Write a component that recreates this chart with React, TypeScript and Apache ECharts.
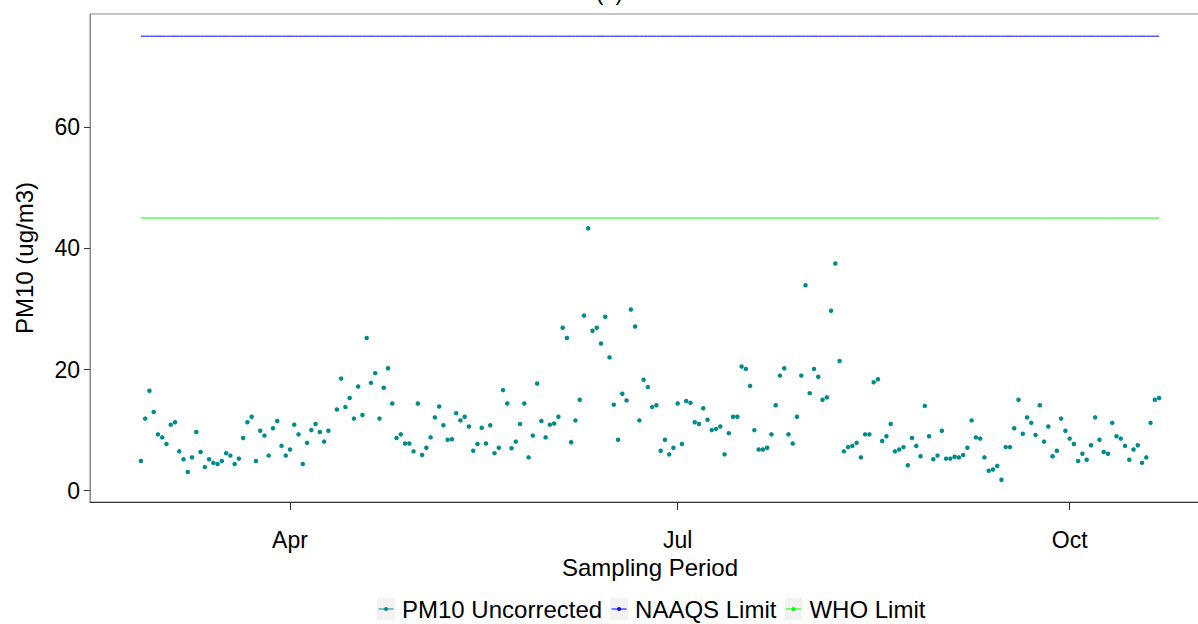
import React, { useEffect, useRef } from "react";
import * as echarts from "echarts";

// ---- data ----
const dates: string[] = [
  "2019-02-25", "2019-02-26", "2019-02-27", "2019-02-28",
  "2019-03-01", "2019-03-02", "2019-03-03", "2019-03-04", "2019-03-05", "2019-03-06", "2019-03-07", "2019-03-08",
  "2019-03-09", "2019-03-10", "2019-03-11", "2019-03-12", "2019-03-13", "2019-03-14", "2019-03-15", "2019-03-16",
  "2019-03-17", "2019-03-18", "2019-03-19", "2019-03-20", "2019-03-21", "2019-03-22", "2019-03-23", "2019-03-24",
  "2019-03-25", "2019-03-26", "2019-03-27", "2019-03-28", "2019-03-29", "2019-03-30", "2019-03-31",
  "2019-04-01", "2019-04-02", "2019-04-03", "2019-04-04", "2019-04-05", "2019-04-06", "2019-04-07", "2019-04-08",
  "2019-04-09", "2019-04-10", "2019-04-12", "2019-04-13", "2019-04-14", "2019-04-15", "2019-04-16",
  "2019-04-17", "2019-04-18", "2019-04-19", "2019-04-20", "2019-04-21", "2019-04-22", "2019-04-23", "2019-04-24",
  "2019-04-25", "2019-04-26", "2019-04-27", "2019-04-28", "2019-04-29", "2019-04-30",
  "2019-05-01", "2019-05-02", "2019-05-03", "2019-05-04", "2019-05-05", "2019-05-06", "2019-05-07", "2019-05-08",
  "2019-05-09", "2019-05-10", "2019-05-11", "2019-05-12", "2019-05-13", "2019-05-14", "2019-05-15", "2019-05-16",
  "2019-05-17", "2019-05-18", "2019-05-19", "2019-05-20", "2019-05-21", "2019-05-22", "2019-05-23", "2019-05-24",
  "2019-05-25", "2019-05-26", "2019-05-27", "2019-05-28", "2019-05-29", "2019-05-30", "2019-05-31",
  "2019-06-01", "2019-06-02", "2019-06-03", "2019-06-04", "2019-06-05", "2019-06-06", "2019-06-07", "2019-06-08",
  "2019-06-09", "2019-06-10", "2019-06-11", "2019-06-12", "2019-06-13", "2019-06-14", "2019-06-15", "2019-06-16",
  "2019-06-17", "2019-06-18", "2019-06-19", "2019-06-20", "2019-06-21", "2019-06-22", "2019-06-23", "2019-06-24",
  "2019-06-25", "2019-06-26", "2019-06-27", "2019-06-28", "2019-06-29", "2019-06-30",
  "2019-07-01", "2019-07-02", "2019-07-03", "2019-07-04", "2019-07-05", "2019-07-06", "2019-07-07", "2019-07-08",
  "2019-07-09", "2019-07-10", "2019-07-11", "2019-07-12", "2019-07-13", "2019-07-14", "2019-07-15", "2019-07-16",
  "2019-07-17", "2019-07-18", "2019-07-19", "2019-07-20", "2019-07-21", "2019-07-22", "2019-07-23", "2019-07-24",
  "2019-07-25", "2019-07-26", "2019-07-27", "2019-07-28", "2019-07-29", "2019-07-30", "2019-07-31",
  "2019-08-01", "2019-08-02", "2019-08-03", "2019-08-04", "2019-08-05", "2019-08-06", "2019-08-07", "2019-08-08",
  "2019-08-09", "2019-08-10", "2019-08-11", "2019-08-12", "2019-08-13", "2019-08-14", "2019-08-15", "2019-08-16",
  "2019-08-17", "2019-08-18", "2019-08-19", "2019-08-20", "2019-08-21", "2019-08-22", "2019-08-23", "2019-08-24",
  "2019-08-25", "2019-08-26", "2019-08-27", "2019-08-28", "2019-08-29", "2019-08-30", "2019-08-31",
  "2019-09-01", "2019-09-02", "2019-09-03", "2019-09-04", "2019-09-05", "2019-09-06", "2019-09-07", "2019-09-08",
  "2019-09-09", "2019-09-10", "2019-09-11", "2019-09-12", "2019-09-13", "2019-09-14", "2019-09-15", "2019-09-16",
  "2019-09-17", "2019-09-18", "2019-09-19", "2019-09-20", "2019-09-21", "2019-09-22", "2019-09-23", "2019-09-24",
  "2019-09-25", "2019-09-26", "2019-09-27", "2019-09-28", "2019-09-29", "2019-09-30",
  "2019-10-01", "2019-10-02", "2019-10-03", "2019-10-04", "2019-10-05", "2019-10-06", "2019-10-07", "2019-10-08",
  "2019-10-09", "2019-10-10", "2019-10-11", "2019-10-12", "2019-10-13", "2019-10-14", "2019-10-15", "2019-10-16",
  "2019-10-17", "2019-10-18", "2019-10-19", "2019-10-20", "2019-10-21", "2019-10-22",
];

const pm10Uncorrected: number[] = [
  4.9, 11.9, 16.5, 13.0,
  9.3, 8.8, 7.7, 10.9, 11.3, 6.5, 5.2, 3.1, 5.5, 9.7, 6.4, 3.9, 5.2, 4.6, 4.4, 4.9,
  6.2, 5.8, 4.4, 5.3, 8.7, 11.3, 12.2, 4.9, 9.9, 9.1, 5.8, 10.3, 11.5, 7.4, 5.8,
  6.8, 10.9, 9.3, 4.4, 7.9, 10.0, 11.0, 9.7, 8.1, 9.9, 13.4, 18.5, 13.8, 15.3, 11.9,
  17.2, 12.5, 25.2, 17.8, 19.4, 11.9, 17.0, 20.2, 14.4, 8.7, 9.3, 7.8, 7.8, 6.5,
  14.4, 5.9, 7.1, 8.8, 12.1, 13.9, 10.8, 8.4, 8.5, 12.8, 11.6, 12.2, 10.6, 6.6, 7.7, 10.4,
  7.8, 10.8, 6.2, 7.1, 16.6, 14.4, 7.0, 8.1, 11.0, 14.4, 5.5, 9.1, 17.7, 11.5, 8.8,
  10.9, 11.1, 12.2, 26.9, 25.2, 8.0, 11.6, 15.0, 28.9, 43.3, 26.4, 26.9, 24.3, 28.7, 22.0, 14.2,
  8.4, 16.0, 14.9, 29.9, 27.1, 11.6, 18.3, 17.1, 13.8, 14.1, 6.6, 8.4, 6.0, 7.1,
  14.4, 7.7, 14.8, 14.5, 11.3, 11.0, 13.6, 11.7, 10.0, 10.2, 10.6, 6.0, 9.5, 12.2, 12.2, 20.5,
  20.1, 17.3, 10.0, 6.8, 6.8, 7.1, 9.3, 14.1, 19.0, 20.2, 9.3, 7.8, 12.2, 19.0, 33.9,
  16.1, 20.1, 18.8, 15.0, 15.4, 29.7, 37.5, 21.4, 6.5, 7.2, 7.4, 7.9, 5.5, 9.3, 9.3, 17.9,
  18.4, 8.2, 9.0, 11.0, 6.5, 6.8, 7.2, 4.2, 8.7, 7.4, 5.7, 14.0, 9.0, 5.2, 5.8,
  9.9, 5.3, 5.3, 5.6, 5.5, 5.9, 7.1, 11.6, 8.8, 8.6, 5.5, 3.3, 3.5, 4.1, 1.8, 7.2,
  7.2, 10.3, 15.0, 9.4, 12.1, 11.2, 9.2, 14.1, 8.1, 10.6, 5.7, 6.6, 11.9, 9.9,
  8.6, 7.7, 4.9, 6.1, 5.1, 7.5, 12.1, 8.4, 6.4, 6.1, 11.2, 9.0, 8.6, 7.4, 5.1, 6.8,
  7.5, 4.6, 5.5, 11.2, 15.0, 15.3,
];

const naaqsLimit = 75;
const whoLimit = 45;

const xTickDates: string[] = ["2019-04-01", "2019-07-01", "2019-10-01"];
const yTickValues: number[] = [0, 20, 40, 60];
const monthLabels: string[] = ["Jan", "Feb", "Mar", "Apr", "May", "Jun", "Jul", "Aug", "Sep", "Oct", "Nov", "Dec"];

const seriesNames = ["PM10 Uncorrected", "NAAQS Limit", "WHO Limit"];
const seriesColors = ["#008B8B", "#0000FF", "#00FF00"];

// ---- helpers ----
const ts = (d: string) => Date.parse(d + "T00:00:00Z");

const keyIcon = (color: string) =>
  "image://data:image/svg+xml;charset=utf-8," +
  encodeURIComponent(
    `<svg xmlns="http://www.w3.org/2000/svg" width="18" height="22" viewBox="0 0 18 22">` +
      `<rect width="18" height="22" fill="#F2F2F2"/>` +
      `<line x1="1.5" y1="11" x2="16.5" y2="11" stroke="${color}" stroke-width="1"/>` +
      `<circle cx="9" cy="11" r="2" fill="${color}"/></svg>`
  );

export default function App() {
  const ref = useRef<HTMLDivElement>(null);

  useEffect(() => {
    if (!ref.current) return;
    const chart = echarts.init(ref.current, null, { renderer: "svg" });

    const xs = dates.map(ts);
    const first = xs[0];
    const last = xs[xs.length - 1];
    const span = last - first;
    const xMin = first - span * 0.05;
    const xMax = last + span * 0.05;

    const allY = [...pm10Uncorrected, naaqsLimit, whoLimit];
    const yLo = Math.min(...allY);
    const yHi = Math.max(...allY);
    const yMin = yLo - (yHi - yLo) * 0.05;
    const yMax = yHi + (yHi - yLo) * 0.05;

    const xTicks = xTickDates.map(ts);
    const font = "'Liberation Sans', Arial, sans-serif";

    const option: any = {
      animation: false,
      backgroundColor: "#ffffff",
      textStyle: { fontFamily: font },
      title: {
        text: "(a)",
        left: 596,
        top: -19,
        padding: 0,
        textStyle: { fontSize: 22, fontWeight: "normal", color: "#000", fontFamily: font },
      },
      grid: {
        left: 90,
        top: 14,
        right: 2,
        bottom: 122,
        show: true,
        borderColor: "#8a8a8a",
        borderWidth: 1,
        backgroundColor: "transparent",
      },
      legend: {
        top: 597,
        left: 377,
        padding: 0,
        itemWidth: 18,
        itemHeight: 22,
        itemGap: 8,
        selectedMode: false,
        textStyle: { fontSize: 24, color: "#000", fontFamily: font, padding: [0, 0, 0, 2] },
        data: seriesNames.map((n, i) => ({ name: n, icon: keyIcon(seriesColors[i]) })),
      },
      xAxis: {
        type: "value",
        min: xMin,
        max: xMax,
        name: "Sampling Period",
        nameLocation: "middle",
        nameGap: 53,
        nameTextStyle: { fontSize: 24, color: "#000", fontFamily: font },
        axisLine: { show: true, onZero: false, lineStyle: { color: "#333", width: 1 } },
        axisTick: { show: true, customValues: xTicks, length: 8, lineStyle: { color: "#333", width: 1 } },
        axisLabel: {
          customValues: xTicks,
          formatter: (v: number) => monthLabels[new Date(v).getUTCMonth()],
          fontSize: 23,
          color: "#000",
          margin: 26,
          fontFamily: font,
        },
        splitLine: { show: false },
      },
      yAxis: {
        type: "value",
        min: yMin,
        max: yMax,
        name: "PM10 (ug/m3)",
        nameLocation: "middle",
        nameGap: 54,
        nameTextStyle: { fontSize: 24, color: "#000", fontFamily: font },
        axisLine: { show: true, onZero: false, lineStyle: { color: "#8a8a8a", width: 1 } },
        axisTick: { show: true, customValues: yTickValues, length: 6, lineStyle: { color: "#333", width: 1 } },
        axisLabel: {
          customValues: yTickValues,
          fontSize: 23,
          color: "#000",
          margin: 10,
          fontFamily: font,
        },
        splitLine: { show: false },
      },
      series: [
        {
          name: seriesNames[0],
          type: "scatter",
          symbol: "circle",
          symbolSize: 4.5,
          itemStyle: { color: seriesColors[0], opacity: 1 },
          data: xs.map((x, i) => [x, pm10Uncorrected[i]]),
        },
        {
          name: seriesNames[1],
          type: "line",
          symbol: "none",
          lineStyle: { color: seriesColors[1], width: 1 },
          itemStyle: { color: seriesColors[1] },
          data: xs.map((x) => [x, naaqsLimit]),
        },
        {
          name: seriesNames[2],
          type: "line",
          symbol: "none",
          lineStyle: { color: seriesColors[2], width: 1 },
          itemStyle: { color: seriesColors[2] },
          data: xs.map((x) => [x, whoLimit]),
        },
      ],
    };

    chart.setOption(option);
    return () => chart.dispose();
  }, []);

  return (
    <div style={{ position: "absolute", left: 0, top: 0, width: 1198, height: 624, overflow: "hidden", background: "#fff" }}>
      <div ref={ref} style={{ width: 1212, height: 624 }} />
    </div>
  );
}
